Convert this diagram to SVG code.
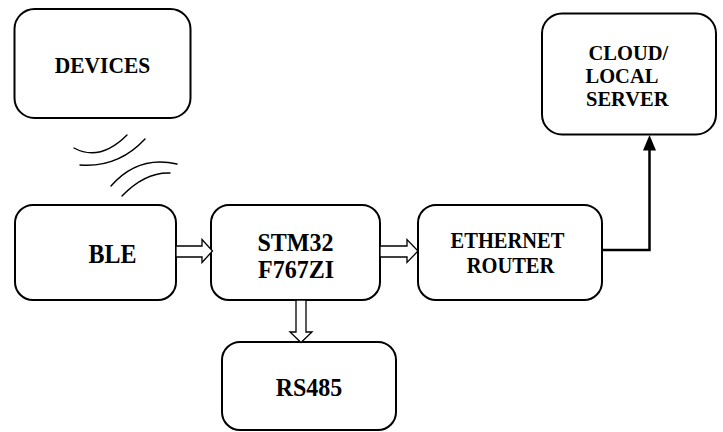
<svg xmlns="http://www.w3.org/2000/svg" width="723" height="432" viewBox="0 0 723 432">
<style>
.box{fill:#fff;stroke:#000;stroke-width:2}
.lbl{font-family:"Liberation Serif","Times New Roman",serif;font-weight:bold;fill:#000}
.m{text-anchor:middle}
.blk{fill:#fff;stroke:#000;stroke-width:1.3;stroke-linejoin:miter}
.wave{fill:none;stroke:#000;stroke-width:1.4;stroke-linecap:round}
</style>
<rect width="723" height="432" fill="#fff"/>
<g id="devices">
<rect class="box" x="14.5" y="9" width="176" height="109" rx="20"/>
<text class="lbl m" transform="translate(102.5,73) scale(1,1.04)" font-size="21.5">DEVICES</text>
</g>
<g id="ble">
<rect class="box" x="15" y="205" width="161" height="95" rx="18"/>
<text class="lbl m" transform="translate(112.5,262.5) scale(1,1.1)" font-size="24">BLE</text>
</g>
<g id="stm32">
<rect class="box" x="211" y="205" width="169" height="95" rx="18"/>
<text class="lbl m" transform="translate(295.5,251) scale(1,1.06)" font-size="24">STM32</text>
<text class="lbl m" transform="translate(296,277.5) scale(1,1.06)" font-size="24">F767ZI</text>
</g>
<g id="ethernet">
<rect class="box" x="418" y="205" width="184" height="95" rx="18"/>
<text class="lbl m" transform="translate(507.5,248) scale(1,1.08)" font-size="20.5">ETHERNET</text>
<text class="lbl m" transform="translate(510.5,273) scale(1,1.08)" font-size="20.5">ROUTER</text>
</g>
<g id="cloud">
<rect class="box" x="542" y="13.5" width="174" height="121" rx="20"/>
<text class="lbl" x="588.5" y="60" font-size="20.5">CLOUD/</text>
<text class="lbl" x="585.5" y="83" font-size="20.5">LOCAL</text>
<text class="lbl" x="586" y="106" font-size="20.5">SERVER</text>
</g>
<g id="rs485">
<rect class="box" x="222" y="342" width="174" height="88" rx="18"/>
<text class="lbl m" transform="translate(309,396) scale(1,1.03)" font-size="24">RS485</text>
</g>
<g id="connectors">
<g id="wireless">
<path class="wave" d="M74,148 Q100,162 127,135"/>
<path class="wave" d="M80,165 Q118,168 145,139"/>
<path class="wave" d="M111,186 Q138,155 177,164"/>
<path class="wave" d="M122,196 Q145,172 170,173"/>
</g>
<polygon class="blk" points="176,246 202,246 202,239.5 212.5,251 202,262.5 202,257 176,257"/>
<polygon class="blk" points="380,246 407,246 407,239.5 418,251 407,262.5 407,257 380,257"/>
<polygon class="blk" points="296,300 306,300 306,332 312,332 301,342.5 290,332 296,332"/>
<polyline points="602,250 649.5,250 649.5,149" fill="none" stroke="#000" stroke-width="2.5"/>
<polygon points="643,150.5 656,150.5 649.5,135" fill="#000"/>
</g>
</svg>
